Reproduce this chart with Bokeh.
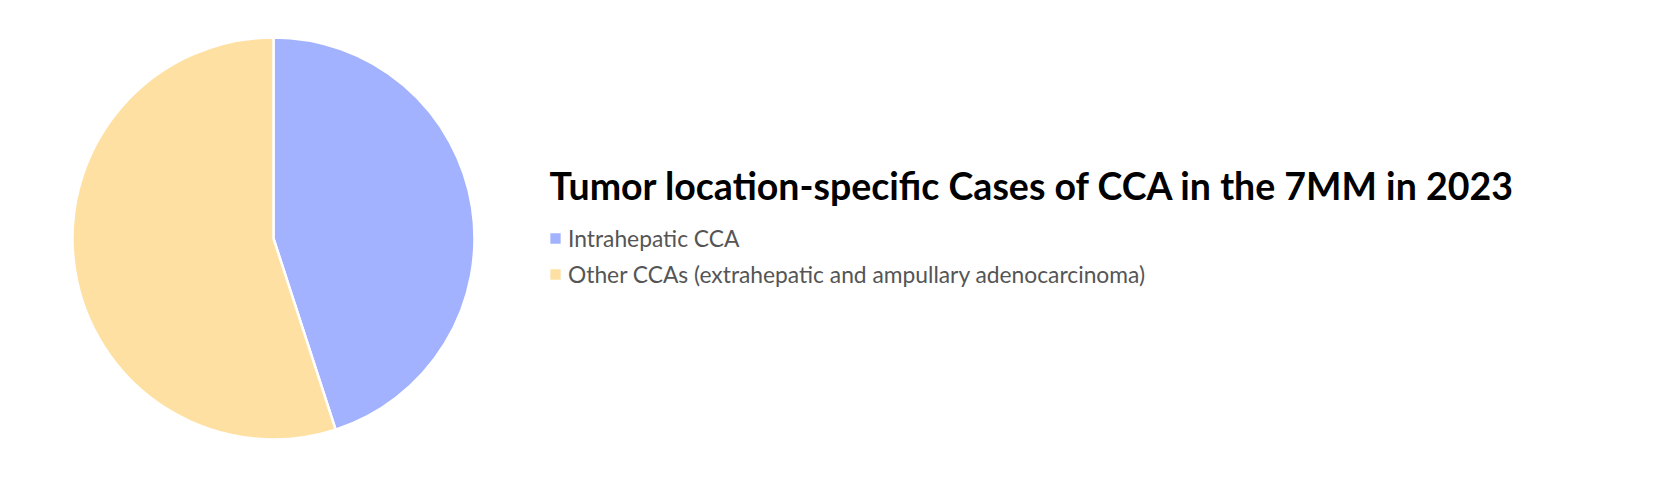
import math
from bokeh.plotting import figure
from bokeh.models import ColumnDataSource, Range1d, Legend, LegendItem, Label
from bokeh.embed import file_html
from bokeh.resources import INLINE

# ---- data ----
categories = ["Intrahepatic CCA", "Other CCAs (extrahepatic and ampullary adenocarcinoma)"]
shares = [45.0, 55.0]
colors = ["#A2B2FF", "#FFE0A3"]
title_text = "Tumor location-specific Cases of CCA in the 7MM in 2023"

W, H = 1651, 465
p = figure(width=W, height=H, x_range=Range1d(0, W), y_range=Range1d(0, H),
           output_backend="svg", toolbar_location=None, min_border=0,
           outline_line_color=None)
p.xaxis.visible = False
p.yaxis.visible = False
p.grid.visible = False

total = sum(shares)
starts, ends = [], []
cum = 0.0
for v in shares:
    starts.append(math.pi / 2 - cum / total * 2 * math.pi)
    cum += v
    ends.append(math.pi / 2 - cum / total * 2 * math.pi)

src = ColumnDataSource(dict(cat=categories, val=shares, start=starts, end=ends, color=colors))
cx, cy, r = 273, H - 238, 201
wr = p.wedge(x=cx, y=cy, radius=r, start_angle="start", end_angle="end",
             direction="clock", fill_color="color", line_color="white",
             line_width=2.5, source=src)

title = Label(x=549, y=H - 185, x_units="screen", y_units="screen", text=title_text,
              text_font="Lato", text_font_style="bold", text_font_size="37.5px",
              text_color="#000000", text_baseline="alphabetic")
p.add_layout(title)

legend = Legend(items=[LegendItem(label=categories[i], renderers=[wr], index=i) for i in range(len(categories))],
                location=(547, H - 288), orientation="vertical",
                label_text_font="Lato", label_text_font_size="22.8px", label_text_color="#555555",
                glyph_width=16, glyph_height=16, spacing=8, padding=0, margin=0,
                border_line_color=None, background_fill_alpha=0, label_standoff=5)
p.add_layout(legend, "center")

open("out.html", "w").write(file_html(p, INLINE))
